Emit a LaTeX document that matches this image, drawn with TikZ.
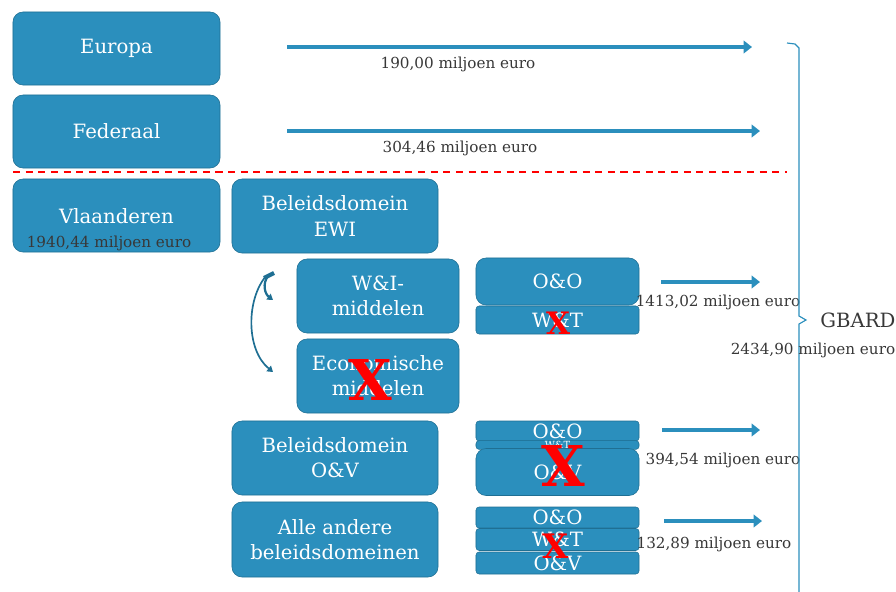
\documentclass[tikz,border=0pt]{standalone}
\usepackage{fontspec}
\setmainfont{DejaVu Serif}
\usetikzlibrary{arrows.meta,positioning}
\definecolor{blokblauw}{HTML}{2B8FBD}
\definecolor{randblauw}{HTML}{1F6F93}
\definecolor{tekstgrijs}{HTML}{383838}
\tikzset{
  blok/.style={draw=randblauw, fill=blokblauw, rounded corners=0.25cm, text=white,
    inner sep=0pt, align=center, font=\fontsize{14}{18}\selectfont},
  strook/.style={blok, rounded corners=0.08cm},
  bedrag/.style={text=tekstgrijs, inner sep=0pt, font=\fontsize{10.8}{12}\selectfont},
  pijl/.style={draw=blokblauw, line width=2.8pt, -{Triangle[length=6pt,width=9pt]}},
  kruis/.style={text=red, inner sep=0pt, font=\bfseries\fontsize{#1}{#1}\selectfont},
}
\begin{document}
\begin{tikzpicture}[x=0.025cm, y=-0.025cm]
    \useasboundingbox (0, 0) rectangle (896, 592);
    % linker kolom
    \node [blok, minimum width=5.175cm, minimum height=1.825cm] (europa) at (116.5, 48.5) {Europa};
    \node [blok, minimum width=5.175cm, minimum height=1.825cm] (federaal) at (116.5, 131.5) {Federaal};
    \node [blok, minimum width=5.175cm, minimum height=1.825cm] (vlaanderen) at (116.5, 215.5) {};
    \node [text=white, font=\fontsize{14}{18}\selectfont] at (116.5, 216) {Vlaanderen};
    \node [bedrag] (vlbedrag) at (109, 243) {1940,44 miljoen euro};
    \draw [red, thick, dash pattern=on 5pt off 4pt] (13, 172) -- (787, 172);
    % beleidsdomeinen
    \node [blok, minimum width=5.15cm, minimum height=1.85cm] (ewi) at (335, 216) {Beleidsdomein\\EWI};
    \node [blok, minimum width=4.05cm, minimum height=1.85cm] (wi) at (378, 296) {W\&I-\\middelen};
    \node [blok, minimum width=4.05cm, minimum height=1.85cm] (eco) at (378, 376) {Economische\\middelen};
    \node [blok, minimum width=5.15cm, minimum height=1.85cm] (ov) at (335, 458) {Beleidsdomein\\O\&V};
    \node [blok, minimum width=5.15cm, minimum height=1.875cm] (andere) at (335, 539.5) {Alle andere\\beleidsdomeinen};
    % kleine blokken
    \node [blok, minimum width=4.075cm, minimum height=1.175cm] (oo1) at (557.5, 281.5) {O\&O};
    \node [strook, minimum width=4.075cm, minimum height=0.7cm] (wt1) at (557.5, 320) {W\&T};
    \node [strook, minimum width=4.075cm, minimum height=0.5cm] (oo2) at (557.5, 431) {O\&O};
    \node [strook, minimum width=4.075cm, minimum height=0.22cm, font=\fontsize{7}{8}\selectfont] (wt2) at (557.5, 445) {W\&T};
    \node [blok, minimum width=4.075cm, minimum height=1.175cm] (ov2) at (557.5, 472) {O\&V};
    \node [strook, minimum width=4.075cm, minimum height=0.525cm] (oo3) at (557.5, 517.5) {O\&O};
    \node [strook, minimum width=4.075cm, minimum height=0.55cm] (wt3) at (557.5, 539.5) {W\&T};
    \node [strook, minimum width=4.075cm, minimum height=0.55cm] (ov3) at (557.5, 563) {O\&V};
    % kruisen
    \node [kruis=22] at (558, 323) {X};
    \node [kruis=40] at (370, 380) {X};
    \node [kruis=40] at (563, 466) {X};
    \node [kruis=24] at (556, 546) {X};
    % pijlen
    \coordinate (p1a) at (287, 47);  \coordinate (p1b) at (752, 47);
    \coordinate (p2a) at (287, 131); \coordinate (p2b) at (760, 131);
    \coordinate (p3a) at (661, 282); \coordinate (p3b) at (760, 282);
    \coordinate (p4a) at (662, 430); \coordinate (p4b) at (760, 430);
    \coordinate (p5a) at (664, 521); \coordinate (p5b) at (762, 521);
    \draw [pijl] (p1a) -- (p1b);
    \draw [pijl] (p2a) -- (p2b);
    \draw [pijl] (p3a) -- (p3b);
    \draw [pijl] (p4a) -- (p4b);
    \draw [pijl] (p5a) -- (p5b);
    \node [bedrag] at (458, 64) {190,00 miljoen euro};
    \node [bedrag] at (460, 148) {304,46 miljoen euro};
    \node [bedrag] at (718, 302) {1413,02 miljoen euro};
    \node [bedrag] at (723, 460) {394,54 miljoen euro};
    \node [bedrag] at (714, 544) {132,89 miljoen euro};
    % gebogen pijlen
    \draw [randblauw, line width=3pt] (274, 273) -- (264, 278);
    \draw [randblauw, line width=1.6pt, -{Triangle[length=4pt,width=5pt]}]
        (268, 276) .. controls (262, 284) and (265, 294) .. (273, 300);
    \draw [randblauw, line width=1.2pt, -{Triangle[length=4pt,width=5pt]}]
        (266, 276) .. controls (246, 300) and (246, 350) .. (273, 372);
    % accolade
    \draw [blokblauw, thick] (787, 43) -- (795, 44) -- (799, 48) -- (799, 316) -- (806, 320)
        -- (799, 324) -- (799, 592);
    \node [text=tekstgrijs, font=\fontsize{14}{17}\selectfont] (gbard) at (858, 320) {GBARD};
    \node [bedrag] (totaal) at (813, 350) {2434,90 miljoen euro};
\end{tikzpicture}
\end{document}
